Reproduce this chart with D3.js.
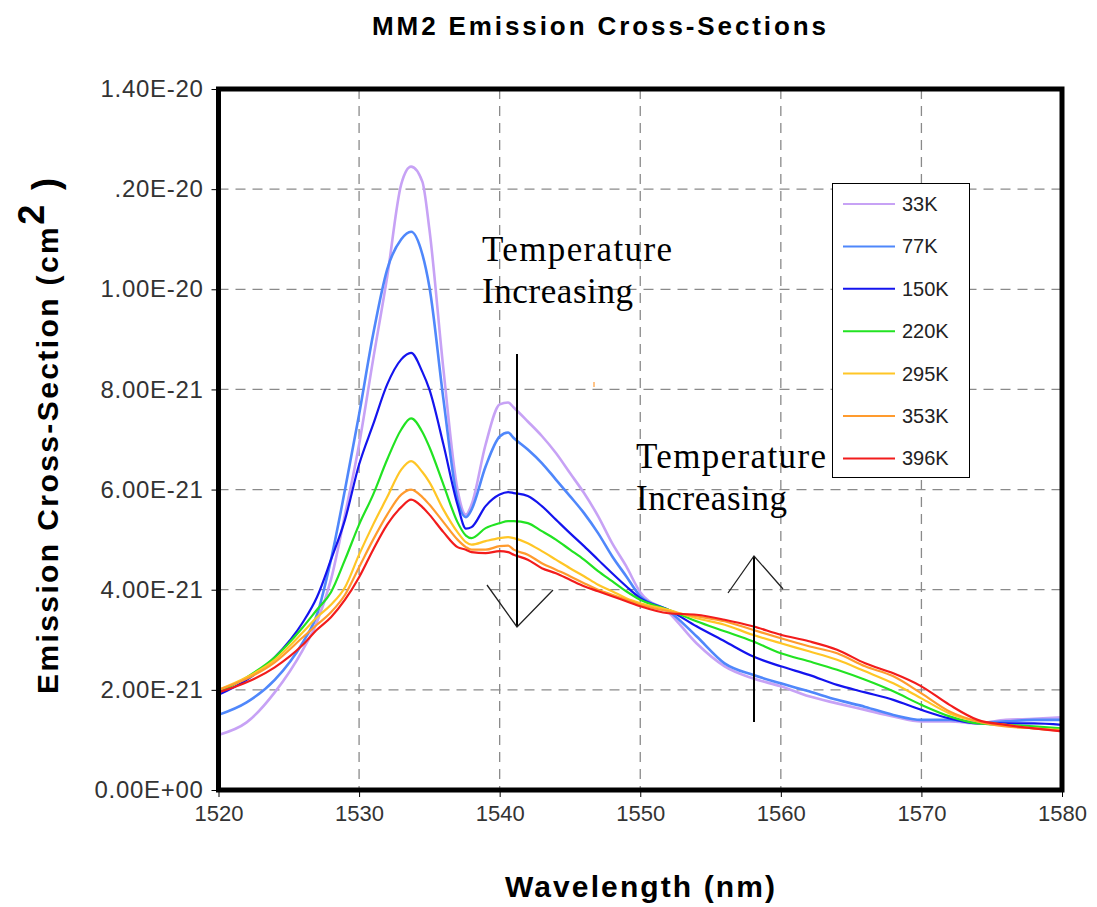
<!DOCTYPE html>
<html>
<head>
<meta charset="utf-8">
<script src="https://cdnjs.cloudflare.com/ajax/libs/d3/7.8.5/d3.min.js"></script>
<style>
body { margin: 0; background: #fff; }
</style>
</head>
<body>
<script>
// wavelength samples (nm)
var wavelengths = [1520, 1522, 1524, 1526, 1527, 1528, 1529, 1530, 1531, 1532, 1533, 1533.7, 1534.5, 1535, 1536, 1537, 1537.6, 1538,
    1539, 1540, 1540.6, 1541, 1542, 1543, 1544, 1545, 1546, 1547, 1548, 1549, 1550,
    1552, 1554, 1556, 1558, 1560, 1562, 1564, 1566, 1568, 1570, 1572, 1574, 1576, 1578, 1580];

// cross-sections in units of 1E-21 cm2
var s33K = [1.1, 1.35, 1.95, 2.8, 3.35, 4.2, 5.5, 6.9, 8.6, 10.25, 12.1, 12.45, 12.15, 11.2, 8.4, 6.0, 5.5, 5.7,
    6.9, 7.7, 7.74, 7.64, 7.36, 7.07, 6.73, 6.33, 5.93, 5.47, 4.93, 4.47, 3.95,
    3.55, 2.93, 2.47, 2.23, 2.07, 1.87, 1.73, 1.6, 1.47, 1.37, 1.37, 1.33, 1.4, 1.42, 1.45];
var s77K = [1.5, 1.75, 2.2, 2.95, 3.5, 4.6, 6.0, 7.5, 9.1, 10.4, 11.0, 11.15, 10.7, 10.05, 7.8, 5.8, 5.45, 5.6,
    6.46, 7.06, 7.14, 7.03, 6.8, 6.53, 6.2, 5.87, 5.53, 5.13, 4.67, 4.27, 3.87,
    3.58, 3.07, 2.53, 2.3, 2.13, 1.97, 1.8, 1.66, 1.5, 1.4, 1.4, 1.35, 1.37, 1.4, 1.4];
var s150K = [1.9, 2.2, 2.65, 3.35, 3.85, 4.6, 5.4, 6.5, 7.3, 8.1, 8.6, 8.73, 8.35, 8.0, 6.9, 5.7, 5.22, 5.25,
    5.67, 5.9, 5.95, 5.93, 5.87, 5.67, 5.4, 5.13, 4.87, 4.6, 4.33, 4.07, 3.83,
    3.6, 3.27, 2.97, 2.67, 2.47, 2.3, 2.1, 1.95, 1.8, 1.6, 1.43, 1.33, 1.33, 1.33, 1.3];
var s220K = [1.95, 2.25, 2.65, 3.25, 3.6, 3.95, 4.6, 5.3, 5.9, 6.6, 7.2, 7.42, 7.15, 6.85, 6.1, 5.35, 5.08, 5.03,
    5.23, 5.33, 5.37, 5.37, 5.33, 5.17, 5.0, 4.8, 4.6, 4.37, 4.17, 3.97, 3.8,
    3.6, 3.37, 3.17, 2.97, 2.73, 2.57, 2.4, 2.2, 1.97, 1.7, 1.47, 1.33, 1.3, 1.27, 1.23];
var s295K = [2.0, 2.25, 2.6, 3.15, 3.45, 3.7, 4.05, 4.7, 5.3, 5.85, 6.4, 6.57, 6.35, 6.15, 5.6, 5.15, 4.95, 4.9,
    4.97, 5.03, 5.05, 5.03, 4.93, 4.77, 4.6, 4.43, 4.27, 4.1, 3.97, 3.83, 3.73,
    3.6, 3.43, 3.3, 3.1, 2.93, 2.77, 2.6, 2.37, 2.13, 1.83, 1.53, 1.37, 1.3, 1.23, 1.2];
var s353K = [2.0, 2.22, 2.55, 3.05, 3.3, 3.55, 3.9, 4.45, 5.0, 5.5, 5.9, 6.0, 5.85, 5.7, 5.35, 5.0, 4.85, 4.8,
    4.8, 4.87, 4.88, 4.8, 4.7, 4.53, 4.4, 4.27, 4.13, 4.0, 3.9, 3.8, 3.7,
    3.57, 3.47, 3.37, 3.2, 3.03, 2.87, 2.73, 2.47, 2.27, 1.93, 1.57, 1.37, 1.27, 1.23, 1.18];
var s396K = [1.95, 2.15, 2.45, 2.9, 3.2, 3.45, 3.8, 4.25, 4.8, 5.3, 5.65, 5.8, 5.65, 5.5, 5.15, 4.85, 4.8, 4.75,
    4.73, 4.77, 4.75, 4.7, 4.6, 4.43, 4.33, 4.2, 4.07, 3.97, 3.87, 3.77, 3.67,
    3.53, 3.5, 3.4, 3.27, 3.1, 2.97, 2.8, 2.53, 2.33, 2.07, 1.7, 1.4, 1.3, 1.23, 1.17];

var seriesNames = ["33K", "77K", "150K", "220K", "295K", "353K", "396K"];
var seriesValues = [s33K, s77K, s150K, s220K, s295K, s353K, s396K];
var seriesColors = ["#c7a2f5", "#4f87fb", "#1414ee", "#22e322", "#ffc626", "#ff9b2e", "#f21c1c"];

var xTicks = [1520, 1530, 1540, 1550, 1560, 1570, 1580];
var yTicks = [0, 2e-21, 4e-21, 6e-21, 8e-21, 1e-20, 1.2e-20, 1.4e-20];
var yTickLabels = ["0.00E+00", "2.00E-21", "4.00E-21", "6.00E-21", "8.00E-21", "1.00E-20", ".20E-20", "1.40E-20"];

var plotLeft = 218.5, plotRight = 1062, plotTop = 89, plotBottom = 790;

var svg = d3.select("body").append("svg")
    .attr("width", 1097)
    .attr("height", 907)
    .style("font-family", "'Liberation Sans', Arial, sans-serif");

var x = d3.scaleLinear().domain([1520, 1580]).range([plotLeft, plotRight]);
var y = d3.scaleLinear().domain([0, 1.4e-20]).range([plotBottom, plotTop]);

// grid
svg.append("g").selectAll("line")
    .data(xTicks.slice(1, -1))
    .enter().append("line")
    .attr("x1", function(d){ return x(d); })
    .attr("x2", function(d){ return x(d); })
    .attr("y1", plotTop).attr("y2", plotBottom)
    .attr("stroke", "#8a8a8a").attr("stroke-width", 1.3)
    .attr("stroke-dasharray", "10,7");

svg.append("g").selectAll("line")
    .data(yTicks.slice(1, -1))
    .enter().append("line")
    .attr("x1", plotLeft).attr("x2", plotRight)
    .attr("y1", function(d){ return y(d); })
    .attr("y2", function(d){ return y(d); })
    .attr("stroke", "#8a8a8a").attr("stroke-width", 1.3)
    .attr("stroke-dasharray", "10,7");

// axes
var yAxis = svg.append("g")
    .attr("transform", "translate(" + plotLeft + ",0)")
    .call(d3.axisLeft(y).tickValues(yTicks)
        .tickFormat(function(d, i){ return yTickLabels[i]; })
        .tickSize(7).tickPadding(8));
yAxis.select(".domain").remove();
yAxis.selectAll("text").attr("font-size", 24).attr("fill", "#333")
    .attr("letter-spacing", 0.7).attr("font-family", null);

var xAxis = svg.append("g")
    .attr("transform", "translate(0," + plotBottom + ")")
    .call(d3.axisBottom(x).tickValues(xTicks)
        .tickFormat(d3.format("d"))
        .tickSize(7).tickPadding(8));
xAxis.select(".domain").remove();
xAxis.selectAll("text").attr("font-size", 22).attr("fill", "#333").attr("font-family", null);

// curves
var line = d3.line()
    .x(function(d){ return x(d[0]); })
    .y(function(d){ return y(d[1] * 1e-21); })
    .curve(d3.curveMonotoneX);

seriesValues.forEach(function(vals, i){
    var pts = wavelengths.map(function(w, j){ return [w, vals[j]]; });
    svg.append("path")
        .attr("d", line(pts))
        .attr("fill", "none")
        .attr("stroke", seriesColors[i])
        .attr("stroke-width", i < 2 ? 2.6 : 2.2)
        .attr("stroke-linejoin", "round");
});

// frame
svg.append("rect")
    .attr("x", plotLeft).attr("y", plotTop)
    .attr("width", plotRight - plotLeft).attr("height", plotBottom - plotTop)
    .attr("fill", "none").attr("stroke", "#000").attr("stroke-width", 5);

// legend
var legend = svg.append("g");
legend.append("rect")
    .attr("x", 832.5).attr("y", 183.5).attr("width", 137).attr("height", 294)
    .attr("fill", "#fff").attr("stroke", "#000").attr("stroke-width", 1);
seriesNames.forEach(function(name, i){
    var ly = 204 + i * 42.4;
    legend.append("line")
        .attr("x1", 843).attr("x2", 895).attr("y1", ly).attr("y2", ly)
        .attr("stroke", seriesColors[i]).attr("stroke-width", 2);
    legend.append("text")
        .attr("x", 902).attr("y", ly + 7)
        .attr("font-size", 20).attr("fill", "#222")
        .text(name);
});

// annotations
function drawNote(tx, ty){
    var t = svg.append("g")
        .attr("font-family", "'Liberation Serif', 'Times New Roman', serif")
        .attr("font-size", 35).attr("fill", "#000");
    t.append("text").attr("x", tx).attr("y", ty).attr("textLength", 190).text("Temperature");
    t.append("text").attr("x", tx).attr("y", ty + 42).attr("textLength", 151).text("Increasing");
}
drawNote(482, 261);
drawNote(636, 468);

function drawArrow(ax, y1, y2, h1, h2){
    svg.append("line").attr("x1", ax).attr("x2", ax).attr("y1", y1).attr("y2", y2)
        .attr("stroke", "#000").attr("stroke-width", 2);
    svg.append("path")
        .attr("d", d3.line()([h1, [ax, y2], h2]))
        .attr("fill", "none").attr("stroke", "#222").attr("stroke-width", 1.3);
}
drawArrow(517, 354, 627, [487, 585], [553, 590]);
drawArrow(754, 722, 556, [728, 593], [783, 589]);

// small stray orange mark
svg.append("line").attr("x1", 594).attr("x2", 594).attr("y1", 382).attr("y2", 387)
    .attr("stroke", "#ffb060").attr("stroke-width", 1.5);

// titles
svg.append("text")
    .attr("x", 372).attr("y", 35)
    .attr("font-size", 26).attr("font-weight", "bold")
    .attr("textLength", 454)
    .text("MM2 Emission Cross-Sections");

svg.append("text")
    .attr("x", 505).attr("y", 897)
    .attr("font-size", 30).attr("font-weight", "bold")
    .attr("textLength", 270)
    .text("Wavelength (nm)");

var yl = svg.append("text")
    .attr("transform", "translate(58,694) rotate(-90)")
    .attr("font-size", 30).attr("font-weight", "bold")
    .attr("letter-spacing", 2.4);
yl.append("tspan").text("Emission Cross-Section (cm");
yl.append("tspan").attr("font-size", 36).attr("dy", -14).text("2");
yl.append("tspan").attr("font-size", 36).attr("dy", 14).text(" )");
</script>
</body>
</html>
